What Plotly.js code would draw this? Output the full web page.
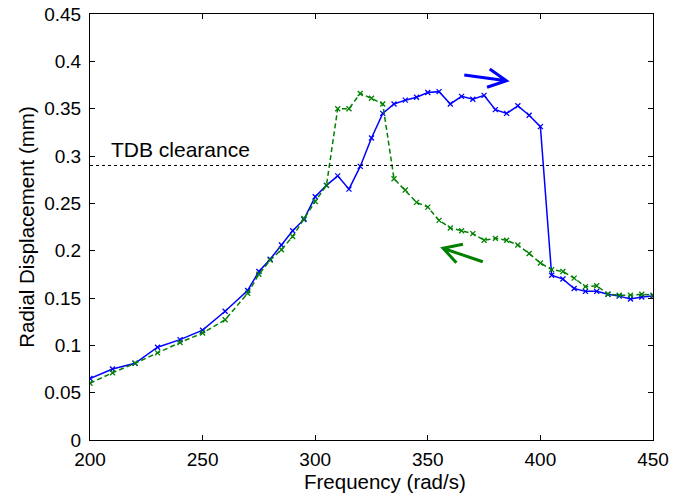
<!DOCTYPE html>
<html>
<head>
<meta charset="utf-8">
<script src="https://cdn.plot.ly/plotly-3.0.1.min.js"></script>
<style>html,body{margin:0;padding:0;background:#fff;}#chart{width:685px;height:494px;}</style>
</head>
<body>
<div id="chart"></div>
<script>
// Frequency (rad/s)
const freq = [200,210,220,230,240,250,260,270,275,280,285,290,295,300,305,310,315,320,325,330,335,340,345,350,355,360,365,370,375,380,385,390,395,400,405,410,415,420,425,430,435,440,445,450];
// Run-up (forward sweep), radial displacement (mm)
const runUp = [0.065,0.075,0.081,0.098,0.106,0.116,0.136,0.158,0.178,0.191,0.206,0.221,0.233,0.257,0.269,0.279,0.265,0.289,0.319,0.345,0.355,0.359,0.362,0.367,0.368,0.355,0.363,0.360,0.364,0.349,0.345,0.353,0.343,0.331,0.174,0.170,0.160,0.157,0.157,0.154,0.152,0.149,0.151,0.152];
// Run-down (backward sweep), radial displacement (mm)
const runDown = [0.060,0.071,0.081,0.092,0.103,0.113,0.127,0.155,0.175,0.190,0.201,0.215,0.234,0.252,0.269,0.350,0.350,0.366,0.361,0.355,0.276,0.264,0.251,0.246,0.232,0.224,0.221,0.218,0.211,0.213,0.211,0.206,0.197,0.187,0.180,0.178,0.171,0.162,0.163,0.154,0.153,0.153,0.154,0.153];
const clearance = 0.29;
const clearanceLabel = 'TDB clearance';
const xTitle = 'Frequency (rad/s)';
const yTitle = 'Radial Displacement (mm)';
const xTicks = [200,250,300,350,400,450];
const yTicks = [0,0.05,0.1,0.15,0.2,0.25,0.3,0.35,0.4,0.45];
const yTickText = ['0','0.05','0.1','0.15','0.2','0.25','0.3','0.35','0.4','0.45'];

const FONT = 'Liberation Sans, Arial, sans-serif';

const traces = [
  {x: freq, y: runUp, type: 'scatter', mode: 'lines+markers', name: 'run-up',
   line: {color: '#0000ff', width: 1.5},
   marker: {symbol: 'x-thin', size: 5, line: {color: '#0000ff', width: 1.3}}},
  {x: freq, y: runDown, type: 'scatter', mode: 'lines+markers', name: 'run-down',
   line: {color: '#008000', width: 1.5, dash: '5px,3px'},
   marker: {symbol: 'x-thin', size: 5, line: {color: '#008000', width: 1.3}}}
];

const axisCommon = {
  showline: true, linecolor: '#000', linewidth: 1, mirror: 'ticks',
  ticks: 'inside', ticklen: 5, tickcolor: '#000', tickwidth: 1,
  showgrid: false, zeroline: false,
  tickfont: {family: FONT, size: 19, color: '#000'}
};

const layout = {
  width: 685, height: 494,
  margin: {l: 90, r: 32, t: 14, b: 54},
  paper_bgcolor: '#fff', plot_bgcolor: '#fff',
  showlegend: false,
  font: {family: FONT, color: '#000'},
  xaxis: Object.assign({}, axisCommon, {
    range: [200, 450], tickvals: xTicks, ticktext: xTicks.map(String),
    ticklabelstandoff: 2
  }),
  yaxis: Object.assign({}, axisCommon, {
    range: [0, 0.45], tickvals: yTicks, ticktext: yTickText,
    ticklabelstandoff: 4,
    title: {text: yTitle, font: {family: FONT, size: 20.5, color: '#000'}, standoff: 4}
  }),
  shapes: [
    {type: 'line', xref: 'paper', yref: 'y', x0: 0, x1: 1, y0: clearance, y1: clearance,
     line: {color: '#000', width: 1, dash: 'dot'}},
    {type: 'path', xref: 'x', yref: 'y',
     path: 'M366.2,0.3856 L384.9,0.3795 M377.5,0.3919 L384.9,0.3795 L376.3,0.3726',
     line: {color: '#0000ff', width: 3}},
    {type: 'path', xref: 'x', yref: 'y',
     path: 'M374.4,0.1883 L356.8,0.2025 M365.6,0.2067 L356.8,0.2025 L362.7,0.1873',
     line: {color: '#008000', width: 3}}
  ],
  annotations: [
    {x: 208.6, y: 0.307, xref: 'x', yref: 'y', text: clearanceLabel, showarrow: false,
     xanchor: 'left', yanchor: 'middle', font: {family: FONT, size: 21, color: '#000'}},
    {x: (385 - 90) / 563, y: 0, xref: 'paper', yref: 'paper', yshift: -41,
     text: xTitle, showarrow: false, xanchor: 'center', yanchor: 'middle',
     font: {family: FONT, size: 20.5, color: '#000'}}
  ]
};

Plotly.newPlot('chart', traces, layout, {staticPlot: true, displayModeBar: false});
</script>
</body>
</html>
